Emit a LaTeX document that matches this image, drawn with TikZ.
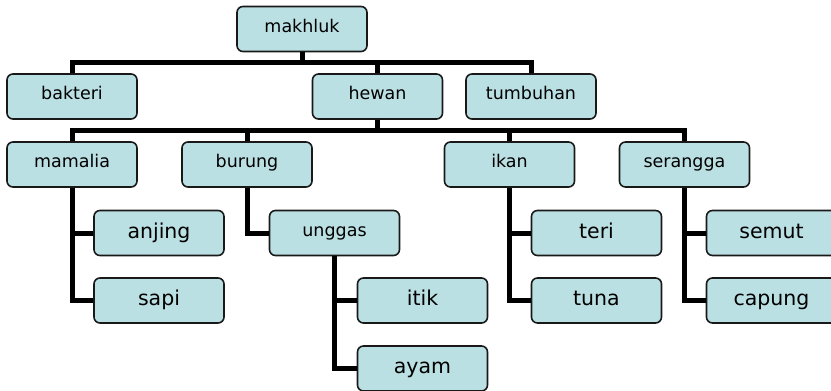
\documentclass[tikz,border=0pt]{standalone}
\usepackage{fontspec}
\setmainfont{DejaVu Sans}
\usetikzlibrary{positioning}
\definecolor{boxfill}{RGB}{187,224,227}

\begin{document}
\begin{tikzpicture}[x=1pt, y=-1pt,
		kotak/.style={draw=black!90, line width=1.6pt, fill=boxfill, rounded corners=6pt,
			minimum width=130pt, minimum height=45pt, inner sep=0pt,
			font=\fontsize{17.5}{20}\selectfont, text height=10pt, text depth=4pt},
		daun/.style={kotak, font=\fontsize{20.5}{24}\selectfont, text height=14pt, text depth=4pt},
		garis/.style={line width=5pt}]
		%%%%% START %%%%%
		\clip (0, 0) rectangle (831, 391);
		
		\node[kotak] (makhluk) at (302, 29) {makhluk};
		\node[kotak] (bakteri) at (72, 96.5) {bakteri};
		\node[kotak] (hewan) at (377.5, 96.5) {hewan};
		\node[kotak] (tumbuhan) at (531, 96.5) {tumbuhan};
		
		\node[kotak] (mamalia) at (72, 164.5) {mamalia};
		\node[kotak] (burung) at (247, 164.5) {burung};
		\node[kotak] (ikan) at (509.5, 164.5) {ikan};
		\node[kotak] (serangga) at (684.5, 164.5) {serangga};
		
		\node[daun] (anjing) at (159, 233) {anjing};
		\node[daun] (sapi) at (159, 300.5) {sapi};
		\node[kotak] (unggas) at (334.5, 233) {unggas};
		\node[daun] (itik) at (422.5, 300.5) {itik};
		\node[daun] (ayam) at (422.5, 368.5) {ayam};
		\node[daun] (teri) at (596.5, 233) {teri};
		\node[daun] (tuna) at (596.5, 300.5) {tuna};
		\node[daun] (semut) at (771.5, 233) {semut};
		\node[daun] (capung) at (771.5, 300.5) {capung};
		
		\draw[garis] (makhluk.south) -- ++(0, 10) -| (bakteri.north);
		\draw[garis] (makhluk.south) -- ++(0, 10) -| (hewan.north);
		\draw[garis] (makhluk.south) -- ++(0, 10) -| (tumbuhan.north);
		
		\draw[garis] (hewan.south) -- ++(0, 11) -| (mamalia.north);
		\draw[garis] (hewan.south) -- ++(0, 11) -| (burung.north);
		\draw[garis] (hewan.south) -- ++(0, 11) -| (ikan.north);
		\draw[garis] (hewan.south) -- ++(0, 11) -| (serangga.north);
		
		\draw[garis] (mamalia.south) |- (anjing.west);
		\draw[garis] (mamalia.south) |- (sapi.west);
		\draw[garis] (burung.south) |- (unggas.west);
		\draw[garis] (unggas.south) |- (itik.west);
		\draw[garis] (unggas.south) |- (ayam.west);
		\draw[garis] (ikan.south) |- (teri.west);
		\draw[garis] (ikan.south) |- (tuna.west);
		\draw[garis] (serangga.south) |- (semut.west);
		\draw[garis] (serangga.south) |- (capung.west);
		%%%%% END %%%%%
	\end{tikzpicture}
\end{document}
